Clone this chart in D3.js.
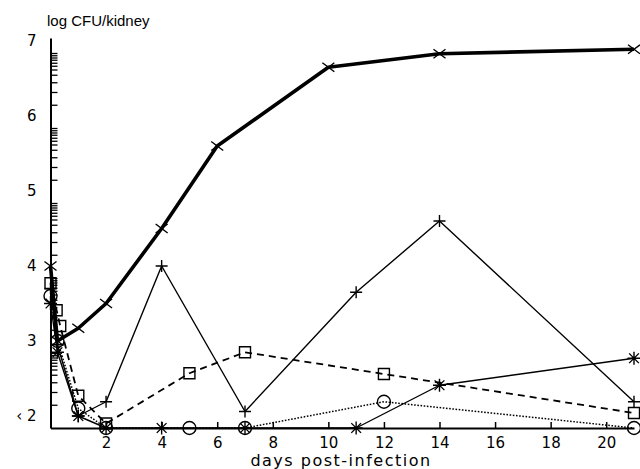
<!DOCTYPE html>
<html>
<head>
<meta charset="utf-8">
<script src="https://cdn.jsdelivr.net/npm/d3@7"></script>
<style>
  body { margin: 0; background: #fff; }
  svg { display: block; }
  .tick text { fill: #000; }
</style>
</head>
<body>
<div id="wrapper"></div>
<script>
// data ("<2" = below detection, plotted on the axis at 1.84)
const dayTimes = [0, 0.25, 1, 2, 4, 6, 10, 14, 21];
const logTimes = [4.0, 3.0, 3.17, 3.5, 4.5, 5.6, 6.65, 6.83, 6.89];

const dayPlus = [0, 0.25, 1, 2, 4, 7, 11, 14, 21];
const logPlus = [3.7, 2.95, 2.0, 2.19, 4.0, 2.06, 3.65, 4.6, 2.19];

const daySquare = [0, 0.22, 0.35, 1, 2, 5, 7, 12, 21];
const logSquare = [3.77, 3.41, 3.2, 2.27, 1.9, 2.57, 2.85, 2.56, 2.04];

const dayCircle = [0, 0.25, 1, 2, 5, 7, 12, 21];
const logCircle = [3.6, 3.0, 2.1, 1.84, 1.84, 1.84, 2.19, 1.84];

const dayStar = [0, 0.25, 1, 2, 4, 7, 11, 14, 21];
const logStar = [3.5, 2.85, 2.0, 1.84, 1.84, 1.84, 1.84, 2.41, 2.77];

const xTicks = [2, 4, 6, 8, 10, 12, 14, 16, 18, 20];
const yTicks = [2, 3, 4, 5, 6, 7];
// minor tick offsets inside each unit
const minorFrac = [0.15, 0.32, 0.45, 0.55, 0.62, 0.67, 0.71, 0.75, 0.78, 0.81, 0.84];

const series = [
  { days: dayTimes,  vals: logTimes,  mark: 'times',  width: 3.6, dash: null },
  { days: dayPlus,   vals: logPlus,   mark: 'plus',   width: 1.4, dash: null },
  { days: daySquare, vals: logSquare, mark: 'square', width: 1.8, dash: '7,5' },
  { days: dayCircle, vals: logCircle, mark: 'circle', width: 1.5, dash: '1.6,1.6' },
  { days: dayStar,   vals: logStar,   mark: 'star',   width: 1.4, dash: null }
];

const width = 640, height = 469;

const svg = d3.select('#wrapper').append('svg')
  .attr('width', width)
  .attr('height', height);

const xScale = d3.scaleLinear().domain([0, 21]).range([50.5, 634]);
const yScale = d3.scaleLinear().domain([1.84, 7.04]).range([428, 38]);

// marker shapes
const markPath = {
  times: s => `M${-s},${-s * 0.75}L${s},${s * 0.75}M${-s},${s * 0.75}L${s},${-s * 0.75}`,
  plus: s => `M${-s},0H${s}M0,${-s}V${s}`,
  star: s => `M${-s},0H${s}M0,${-s}V${s}M${-s * 0.75},${-s * 0.75}L${s * 0.75},${s * 0.75}M${-s * 0.75},${s * 0.75}L${s * 0.75},${-s * 0.75}`,
  square: s => `M${-s},${-s}h${2 * s}v${2 * s}h${-2 * s}Z`,
  circle: s => d3.symbol(d3.symbolCircle, Math.PI * s * s)()
};
const markSize = { times: 6, plus: 6, star: 6.5, square: 5.5, circle: 6.5 };

// axes
const xAxis = svg.append('g')
  .attr('transform', `translate(0,${yScale(1.84)})`)
  .call(d3.axisBottom(xScale)
    .tickValues(xTicks)
    .tickSize(-6)
    .tickSizeOuter(0)
    .tickPadding(9.5)
    .tickFormat(d3.format('d')));
xAxis.select('.domain').attr('stroke-width', 2);
xAxis.selectAll('.tick line').attr('stroke-width', 1.5);
xAxis.selectAll('text')
  .attr('font-family', 'DejaVu Sans')
  .attr('font-size', 15);

const yAxis = svg.append('g')
  .attr('transform', `translate(${xScale(0)},0)`)
  .call(d3.axisLeft(yScale)
    .tickValues(yTicks)
    .tickSize(0)
    .tickPadding(14)
    .tickFormat(d => d === 2 ? '\u2039 2' : d));
yAxis.select('.domain').attr('stroke-width', 2);
yAxis.selectAll('text')
  .attr('font-family', 'DejaVu Sans')
  .attr('font-size', 15);

const minorTicks = [];
yTicks.slice(0, -1).forEach(t => minorFrac.forEach(f => minorTicks.push(t + f)));

const yMinor = svg.append('g')
  .attr('transform', `translate(${xScale(0)},0)`)
  .call(d3.axisRight(yScale)
    .tickValues(minorTicks)
    .tickSize(7)
    .tickSizeOuter(0)
    .tickFormat(''));
yMinor.select('.domain').remove();
yMinor.selectAll('.tick line').attr('stroke-width', 1.3);

// lines
const line = d3.line()
  .x(d => xScale(d[0]))
  .y(d => yScale(d[1]));

series.forEach(s => {
  const pts = s.days.map((d, i) => [d, s.vals[i]]);
  svg.append('path')
    .attr('d', line(pts))
    .attr('fill', 'none')
    .attr('stroke', '#000')
    .attr('stroke-width', s.width)
    .attr('stroke-linejoin', 'round')
    .attr('stroke-dasharray', s.dash);

  svg.append('g').selectAll('path')
    .data(pts)
    .join('path')
    .attr('transform', d => `translate(${xScale(d[0])},${yScale(d[1])})`)
    .attr('d', markPath[s.mark](markSize[s.mark]))
    .attr('fill', 'none')
    .attr('stroke', '#000')
    .attr('stroke-width', 1.4);
});

// titles
svg.append('text')
  .attr('x', 47)
  .attr('y', 26)
  .attr('font-family', 'Liberation Sans, Arial, sans-serif')
  .attr('font-size', 15)
  .text('log CFU/kidney');

svg.append('text')
  .attr('x', 341)
  .attr('y', 466)
  .attr('text-anchor', 'middle')
  .attr('font-family', 'DejaVu Sans')
  .attr('font-size', 16)
  .attr('letter-spacing', 1.5)
  .text('days post-infection');
</script>
</body>
</html>
